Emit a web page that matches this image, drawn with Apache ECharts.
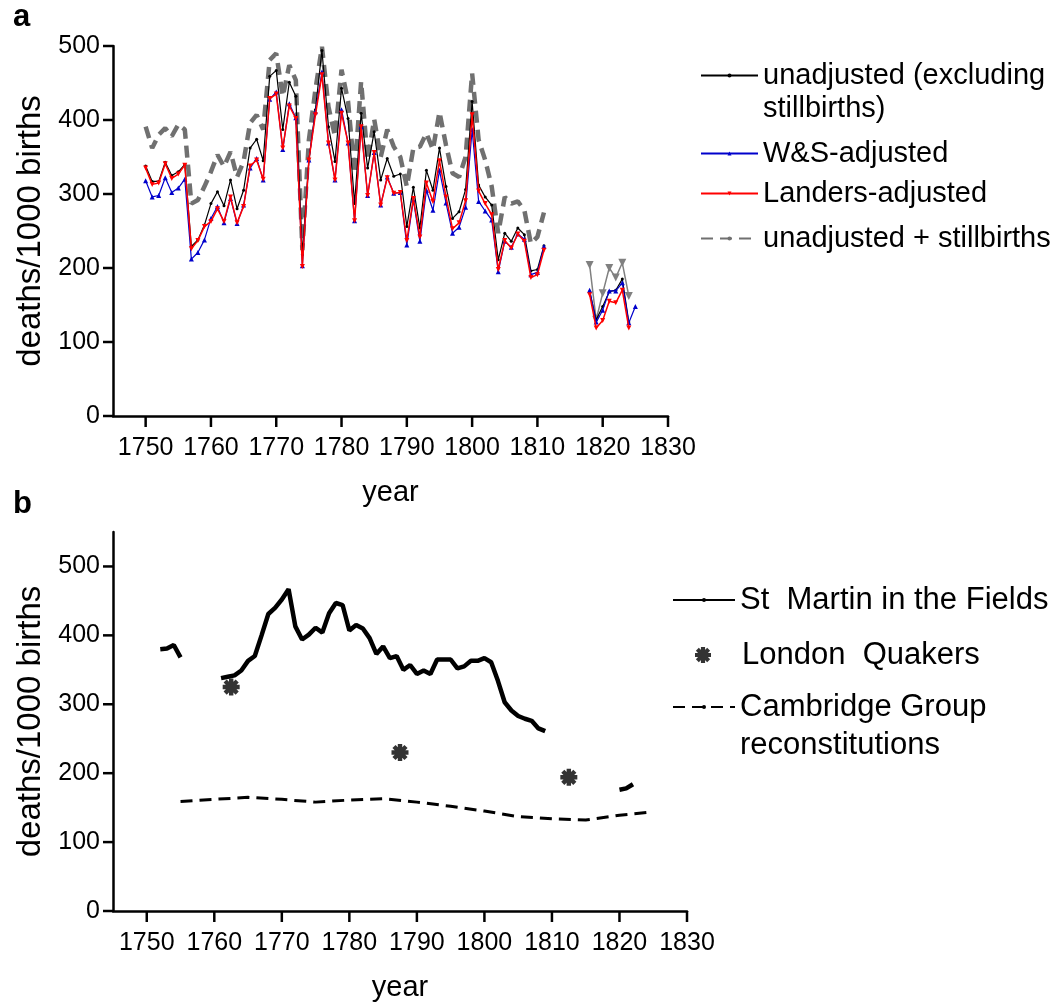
<!DOCTYPE html>
<html><head><meta charset="utf-8">
<script src="https://cdn.jsdelivr.net/npm/echarts@6/dist/echarts.min.js"></script>
<style>html,body{margin:0;padding:0;background:#fff}#c{width:1057px;height:1003px}</style>
</head><body><div id="c"></div>
<script>
// ---------- Panel a data ----------
const yearsA = [
  1750,1751,1752,1753,1754,1755,1756,1757,1758,1759,
  1760,1761,1762,1763,1764,1765,1766,1767,1768,1769,
  1770,1771,1772,1773,1774,1775,1776,1777,1778,1779,
  1780,1781,1782,1783,1784,1785,1786,1787,1788,1789,
  1790,1791,1792,1793,1794,1795,1796,1797,1798,1799,
  1800,1801,1802,1803,1804,1805,1806,1807,1808,1809,
  1810,1811,1812,1813,1814,1815,1816,1817,1818,1819,
  1820,1821,1822,1823,1824,1825];
const unadjusted = [
  338,317,317,343,325,330,340,229,238,258,
  287,303,284,319,280,305,362,374,345,459,
  467,387,451,432,218,346,414,494,391,344,
  443,402,287,409,335,384,319,348,324,327,
  256,309,254,332,305,362,310,267,276,306,
  425,312,296,285,211,247,236,254,245,196,
  198,230,null,null,null,null,null,null,168,130,
  148,168,170,185,127,null];
const wsAdjusted = [
  318,296,298,322,302,308,320,212,221,238,
  267,283,261,294,260,285,335,348,319,428,
  438,360,422,403,203,346,411,465,369,319,
  414,369,264,391,298,356,285,323,301,302,
  231,292,236,305,278,332,288,247,255,282,
  387,290,277,265,195,236,228,246,239,191,
  194,229,null,null,null,null,null,null,170,127,
  143,169,169,180,126,148];
const landersAdjusted = [
  335,313,315,341,321,327,339,226,237,256,
  263,280,263,296,261,283,338,346,320,429,
  435,362,419,402,202,346,407,461,369,319,
  409,369,264,391,298,356,285,322,301,302,
  237,294,242,315,290,345,296,253,261,291,
  407,304,287,272,198,237,227,246,236,187,
  191,224,null,null,null,null,null,null,164,119,
  129,155,153,170,119,null];
const plusStillbirths = [
  391,362,380,389,378,394,387,287,292,310,
  330,353,337,357,323,344,396,407,387,481,
  490,432,474,454,224,373,441,499,418,378,
  468,425,328,452,346,401,350,387,364,350,
  310,362,364,382,360,411,366,328,323,350,
  463,373,346,310,247,296,287,290,278,233,
  242,275,null,null,null,null,null,null,null,null,
  null,null,null,null,null,null];
const laterYears = [1818,1819,1820,1821,1822,1823,1824];
const laterPlusStillbirths = [204,130,166,200,187,207,162];

// ---------- Panel b data ----------
const yearsB = yearsA;
const stMartin = [
  null,null,380,381,386,368,null,null,null,null,
  null,338,340,342,349,363,370,400,431,440,
  452,467,413,394,401,411,404,432,447,444,
  407,415,410,396,373,384,367,370,350,357,
  344,349,344,365,365,365,352,355,363,363,
  367,361,334,303,291,283,279,276,265,261,
  null,null,null,null,null,null,null,null,null,null,
  176,178,184,null,null,null];
const quakerYears = [1762.5,1787.5,1812.5];
const quakers = [325,230,194];
const cambridgeYears = [1755,1760,1765,1770,1775,1780,1785,1790,1795,1800,1805,1810,1815,1820,1825];
const cambridge = [159,162,165,162,158,161,163,158,152,145,137,134,132,139,144];

const xTicks = [1750,1760,1770,1780,1790,1800,1810,1820,1830];
const yTicks = [0,100,200,300,400,500];
const X_MIN = 1745, X_MAX = 1830;

function pairs(xs, ys){ return xs.map((x,i)=> ys[i]==null ? [x,'-'] : [x, ys[i]]); }

const FONT = 'Liberation Sans, Arial, sans-serif';
const ASTERISK = 'path://M-1.3,-5 L1.3,-5 L1.3,5 L-1.3,5 Z M-5,-1.3 L5,-1.3 L5,1.3 L-5,1.3 Z M-4.46,-2.62 L-2.62,-4.46 L4.46,2.62 L2.62,4.46 Z M-2.62,4.46 L-4.46,2.62 L2.62,-4.46 L4.46,-2.62 Z';

function xAxisCfg(gridIndex){
  return {
    type:'value', gridIndex, min:X_MIN, max:X_MAX, interval:5,
    name:'year', nameLocation:'middle', nameGap:62,
    nameTextStyle:{fontSize:29, color:'#000', fontFamily:FONT},
    axisLine:{lineStyle:{color:'#000', width:2.5}},
    axisTick:{show:false},
    axisLabel:{show:true, customValues:xTicks, formatter:(v)=>String(v), fontSize:25, color:'#000', fontFamily:FONT, margin:20},
    splitLine:{show:false}
  };
}
function yAxisCfg(gridIndex, max){
  return {
    type:'value', gridIndex, min:0, max:max, interval:100,
    name:'deaths/1000 births', nameLocation:'middle', nameGap:66,
    nameTextStyle:{fontSize:33, color:'#000', fontFamily:FONT},
    axisLine:{show:true, lineStyle:{color:'#000', width:2.5}},
    axisTick:{show:false},
    axisLabel:{show:true, customValues:yTicks, formatter:(v)=>String(v), fontSize:25, color:'#000', fontFamily:FONT, margin:13},
    splitLine:{show:false}
  };
}

const N1 = 'unadjusted (excluding stillbirths)';
const N2 = 'W&S-adjusted';
const N3 = 'Landers-adjusted';
const N4 = 'unadjusted + stillbirths';
const M1 = 'St  Martin in the Fields';
const M2 = 'London  Quakers';
const M3 = 'Cambridge Group reconstitutions';

const legTextA = {fontSize:29, lineHeight:33, color:'#000', fontFamily:FONT};
const legTextB = {fontSize:31, lineHeight:38, color:'#000', fontFamily:FONT};

const baseGraphic = [
  {type:'text', left:13, top:2, style:{text:'a', font:'bold 31px '+FONT, fill:'#000'}},
  {type:'text', left:13, top:489, style:{text:'b', font:'bold 31px '+FONT, fill:'#000'}}
];

const option = {
  animation:false,
  backgroundColor:'#fff',
  graphic:baseGraphic,
  grid:[
    {left:113, top:46, width:555, height:370},
    {left:113, top:532, width:574, height:384}
  ],
  xAxis:[xAxisCfg(0), xAxisCfg(1)],
  yAxis:[yAxisCfg(0,500), yAxisCfg(1,550)],
  legend:[
    {left:700, top:26, padding:0, itemWidth:57, itemHeight:5, data:[N1],
     formatter:()=> '{e| }\n{t|unadjusted (excluding}\n{t|stillbirths)}',
     textStyle:Object.assign({}, legTextA, {rich:{e:legTextA, t:legTextA}})},
    {left:700, top:137, padding:0, itemWidth:57, itemHeight:5, data:[N2], textStyle:legTextA},
    {left:700, top:177, padding:0, itemWidth:57, itemHeight:5, data:[N3], textStyle:legTextA},
    {left:700, top:222, padding:0, itemWidth:57, itemHeight:5, data:[N4], textStyle:legTextA},
    {left:672, top:581, padding:0, itemWidth:62, itemHeight:5, data:[M1], textStyle:legTextB},
    {left:695, top:636, padding:0, itemWidth:16, itemHeight:16, data:[M2],
     textStyle:Object.assign({}, legTextB, {padding:[0,0,0,26]})},
    {left:672, top:650, padding:0, itemWidth:62, itemHeight:5, data:[M3],
     formatter:()=> '{e| }\n{t|Cambridge Group}\n{t|reconstitutions}',
     textStyle:Object.assign({}, legTextB, {rich:{e:legTextB, t:legTextB}})}
  ],
  series:[
    {name:N4, type:'line', xAxisIndex:0, yAxisIndex:0, data:pairs(yearsA, plusStillbirths),
     symbol:'none', lineStyle:{color:'#707070', width:4.5, type:[12,7]}, itemStyle:{color:'#707070'}, z:1},
    {name:N4, type:'line', xAxisIndex:0, yAxisIndex:0, data:pairs(laterYears, laterPlusStillbirths),
     symbol:'triangle', symbolRotate:180, symbolSize:8, lineStyle:{color:'#808080', width:1.5}, itemStyle:{color:'#808080'}, z:1},
    {name:N1, type:'line', xAxisIndex:0, yAxisIndex:0, data:pairs(yearsA, unadjusted),
     symbol:'circle', symbolSize:3, lineStyle:{color:'#000', width:1.2}, itemStyle:{color:'#000'}, z:2},
    {name:N2, type:'line', xAxisIndex:0, yAxisIndex:0, data:pairs(yearsA, wsAdjusted),
     symbol:'triangle', symbolSize:5, lineStyle:{color:'#0000cc', width:1.2}, itemStyle:{color:'#0000cc'}, z:3},
    {name:N3, type:'line', xAxisIndex:0, yAxisIndex:0, data:pairs(yearsA, landersAdjusted),
     symbol:'triangle', symbolRotate:180, symbolSize:5, lineStyle:{color:'#ff0000', width:1.5}, itemStyle:{color:'#ff0000'}, z:4},
    {name:M1, type:'line', xAxisIndex:1, yAxisIndex:1, data:pairs(yearsB, stMartin),
     symbol:'none', lineStyle:{color:'#000', width:4.5}, itemStyle:{color:'#000'}},
    {name:M2, type:'scatter', xAxisIndex:1, yAxisIndex:1, data:pairs(quakerYears, quakers),
     symbol:ASTERISK, symbolSize:17, itemStyle:{color:'#000'}},
    {name:M3, type:'line', xAxisIndex:1, yAxisIndex:1, data:pairs(cambridgeYears, cambridge),
     symbol:'none', lineStyle:{color:'#000', width:3, type:[12,7]}, itemStyle:{color:'#000'}}
  ]
};
const chart = echarts.init(document.getElementById('c'), null, {renderer:'canvas'});
chart.setOption(option);

// Tick marks: positions come from the axes' own scales via convertToPixel.
const tickGraphics = [];
[0,1].forEach(function(g){
  xTicks.forEach(function(t){
    const p = chart.convertToPixel({gridIndex:g}, [t, 0]);
    if (p) tickGraphics.push({type:'line', z:50, shape:{x1:p[0], y1:p[1], x2:p[0], y2:p[1]+11}, style:{stroke:'#000', lineWidth:2.5}});
  });
  yTicks.forEach(function(t){
    const p = chart.convertToPixel({gridIndex:g}, [X_MIN, t]);
    if (p) tickGraphics.push({type:'line', z:50, shape:{x1:p[0], y1:p[1], x2:p[0]-10, y2:p[1]}, style:{stroke:'#000', lineWidth:2.5}});
  });
});
chart.setOption({graphic: baseGraphic.concat(tickGraphics)});
</script></body></html>
